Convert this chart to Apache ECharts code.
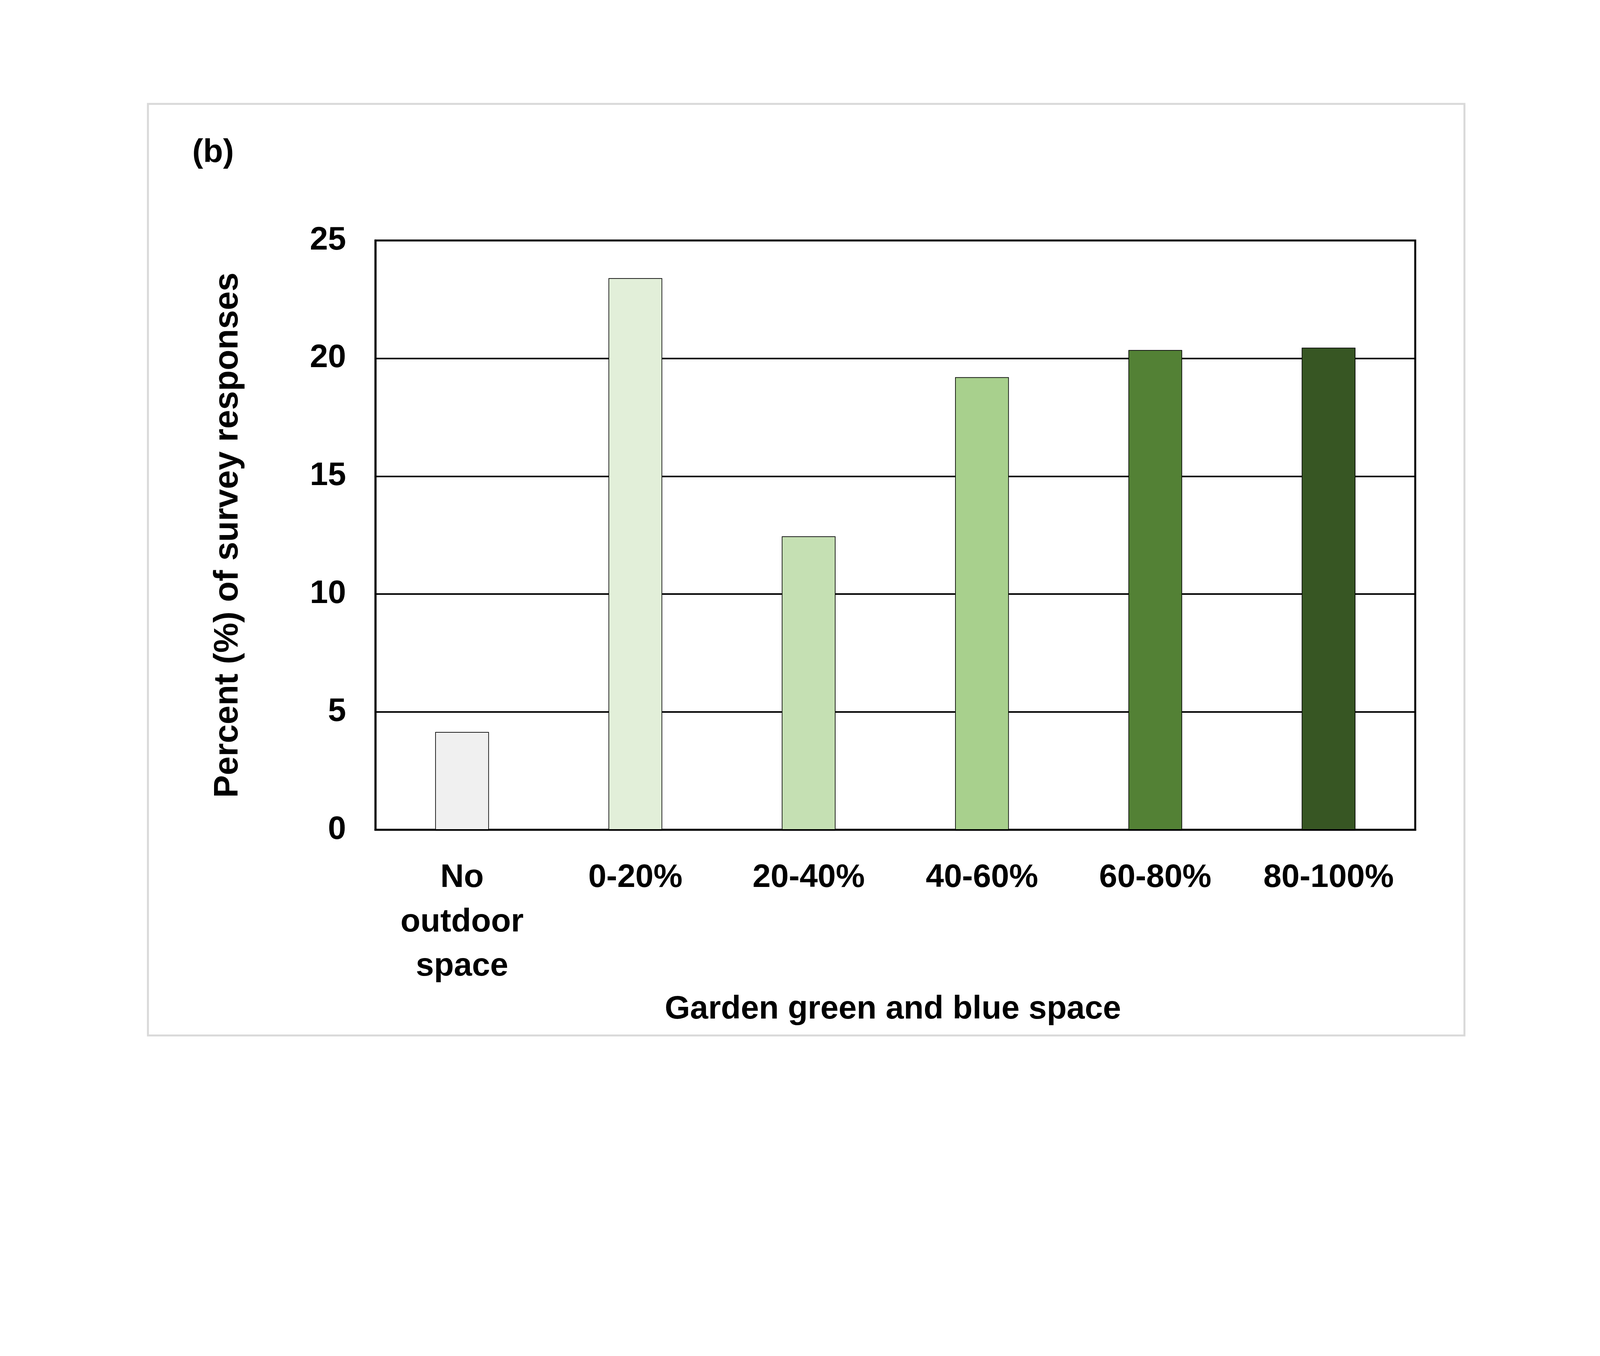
<!DOCTYPE html>
<html>
<head>
<meta charset="utf-8">
<script src="https://cdn.jsdelivr.net/npm/echarts@6/dist/echarts.min.js"></script>
<style>html,body{margin:0;padding:0;background:#fff;overflow:hidden}#chart{width:100vw;height:100vh}</style>
</head>
<body>
<div id="chart"></div>
<script>
const categories = ["No\noutdoor\nspace", "0-20%", "20-40%", "40-60%", "60-80%", "80-100%"];
const percentValues = [4.15, 23.4, 12.45, 19.2, 20.35, 20.45];
const barColors = ["#f0f0f0", "#e2efd9", "#c5e0b3", "#a8d08d", "#538135", "#375623"];
const yTicks = [0, 5, 10, 15, 20, 25];

const font = "Liberation Sans, Arial, sans-serif";
const el = document.getElementById("chart");
const W = el.clientWidth, H = el.clientHeight;
const s = Math.min(W / 4910, H / 3472);
const chart = echarts.init(el, null, { renderer: "canvas" });

chart.setOption({
  animation: false,
  backgroundColor: "#ffffff",
  grid: { left: 1152 * s, right: W - 4343 * s, top: 738 * s, bottom: H - 2547 * s, show: true, borderColor: "#000", borderWidth: 6 * s, backgroundColor: "transparent" },
  graphic: [
    { type: "rect", shape: { x: 454 * s, y: 319 * s, width: 4040 * s, height: 2859 * s }, style: { fill: "none", stroke: "#d9d9d9", lineWidth: 6 * s }, z: -1 },
    { type: "text", x: 590 * s, y: 420 * s, style: { text: "(b)", font: "bold " + 100 * s + "px " + font, fill: "#000" } },
    { type: "text", x: 2740 * s, y: 3099 * s, style: { text: "Garden green and blue space", font: "bold " + 100 * s + "px " + font, fill: "#000", textAlign: "center", textVerticalAlign: "middle" } }
  ],
  xAxis: {
    type: "category",
    data: categories,
    axisLine: { lineStyle: { color: "#000", width: 6 * s } },
    axisTick: { show: false },
    axisLabel: { color: "#000", fontFamily: font, fontWeight: "bold", fontSize: 100 * s, lineHeight: 136 * s, margin: 80 * s, interval: 0 }
  },
  yAxis: {
    type: "value",
    min: yTicks[0],
    max: yTicks[yTicks.length - 1],
    interval: 5,
    name: "Percent (%) of survey responses",
    nameLocation: "middle",
    nameGap: 400 * s,
    nameTextStyle: { color: "#000", fontFamily: font, fontWeight: "bold", fontSize: 104 * s },
    axisLine: { show: true, lineStyle: { color: "#000", width: 6 * s } },
    axisTick: { show: false },
    axisLabel: { color: "#000", fontFamily: font, fontWeight: "bold", fontSize: 100 * s, margin: 90 * s },
    splitLine: { lineStyle: { color: "#000", width: 5 * s } }
  },
  series: [{
    type: "bar",
    barWidth: "31%",
    data: percentValues.map((v, i) => ({ value: v, itemStyle: { color: barColors[i] } })),
    itemStyle: { borderColor: "#000", borderWidth: 2 * s }
  }]
});
</script>
</body>
</html>
